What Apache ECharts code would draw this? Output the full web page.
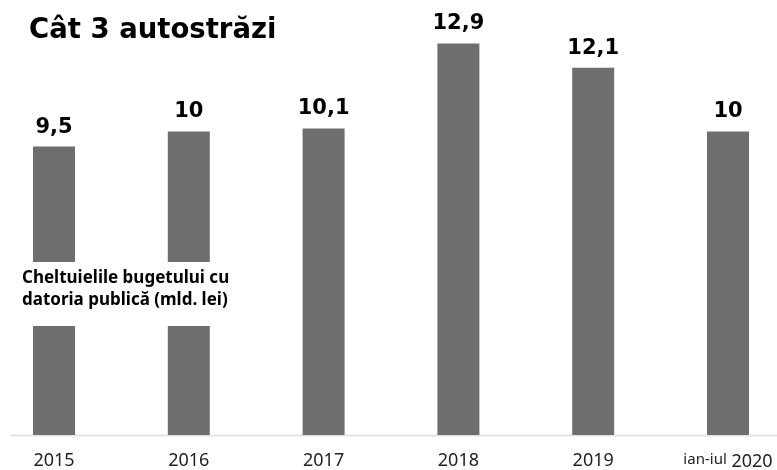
<!DOCTYPE html>
<html>
<head>
<meta charset="utf-8">
<script src="https://cdn.jsdelivr.net/npm/echarts@6/dist/echarts.min.js"></script>
<style>
  html, body { margin: 0; padding: 0; background: #fff; }
  #chart { width: 777px; height: 470px; }
</style>
</head>
<body>
<div id="chart"></div>
<script>
// cheltuieli cu datoria publica, mld. lei
const years = ["2015", "2016", "2017", "2018", "2019", "ian-iul 2020"];
const values = [9.5, 10, 10.1, 12.9, 12.1, 10];
const valueLabels = ["9,5", "10", "10,1", "12,9", "12,1", "10"];

const narrow = '"Noto Sans", "DejaVu Sans", sans-serif';

const chart = echarts.init(document.getElementById("chart"));
chart.setOption({
  animation: false,
  backgroundColor: "#fff",
  title: {
    text: "Cât 3 autostrăzi",
    left: 24,
    top: 12,
    textStyle: {
      fontFamily: "DejaVu Sans",
      fontWeight: "bold",
      fontSize: 27.5,
      color: "#000"
    }
  },
  grid: { left: -13.4, right: -18.4, top: 10, bottom: 35, outerBoundsMode: "none", containLabel: false },
  xAxis: {
    type: "category",
    data: years,
    axisLine: { show: false },
    axisTick: { show: false },
    axisLabel: {
      interval: 0,
      margin: 17,
      fontFamily: narrow,
      fontSize: 18,
      color: "#222",
      formatter: function (v) {
        if (v.indexOf(" ") > 0) {
          const p = v.split(" ");
          return "{s|" + p[0] + "} " + p[1];
        }
        return v;
      },
      rich: {
        s: { fontFamily: narrow, fontSize: 15, color: "#222", verticalAlign: "bottom", padding: [0, 0, 5, 0] }
      }
    }
  },
  yAxis: {
    type: "value",
    min: 0,
    max: 14,
    show: false,
    splitLine: { show: false }
  },
  series: [{
    type: "bar",
    data: values,
    barWidth: 42,
    itemStyle: { color: "#6e6e6e" },
    label: {
      show: true,
      position: "top",
      distance: 9,
      formatter: function (p) { return valueLabels[p.dataIndex]; },
      fontFamily: "DejaVu Sans",
      fontWeight: "bold",
      fontSize: 21,
      color: "#000"
    }
  }],
  graphic: [
    {
      type: "line",
      shape: { x1: 10, y1: 435.5, x2: 777, y2: 435.5 },
      style: { stroke: "#e3e3e3", lineWidth: 2 },
      z: 1
    },
    {
      type: "rect",
      shape: { x: 14, y: 262, width: 230, height: 64 },
      style: { fill: "#fff" },
      z: 10
    },
    {
      type: "text",
      left: 22,
      top: 267,
      z: 11,
      style: {
        text: "Cheltuielile bugetului cu\ndatoria publică (mld. lei)",
        fontFamily: narrow,
        fontWeight: "bold",
        fontSize: 17,
        lineHeight: 22,
        fill: "#000"
      }
    }
  ]
});
</script>
</body>
</html>
